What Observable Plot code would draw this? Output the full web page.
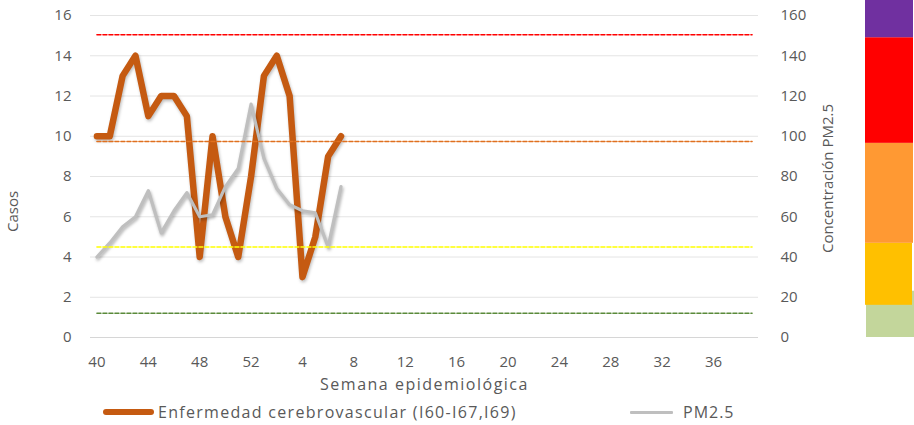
<!DOCTYPE html>
<html><head><meta charset="utf-8">
<script src="https://cdn.jsdelivr.net/npm/d3@7"></script>
<script src="https://cdn.jsdelivr.net/npm/@observablehq/plot@0.6"></script>
<style>
body{margin:0;background:#fff;}
#wrap{position:relative;width:914px;height:425px;overflow:hidden;font-family:"Open Sans",sans-serif;color:#595959;}
.leg{position:absolute;font-size:16px;line-height:20px;white-space:nowrap;color:#595959;}
.sw{position:absolute;border-radius:3px;}
</style></head><body><div id="wrap"></div>
<script>
// Categories: epidemiological weeks (40..52 then 1..39)
const weeks = [40,41,42,43,44,45,46,47,48,49,50,51,52,1,2,3,4,5,6,7,8,9,10,11,12,13,14,15,16,17,18,19,20,21,22,23,24,25,26,27,28,29,30,31,32,33,34,35,36,37,38,39];
// Series values (first 20 weeks have data)
const casos = [10,10,13,14,11,12,12,11,4,10,6,4,8,13,14,12,3,5,9,10];
const pm25  = [40,47,55,60,73,52,63,72,60,61,75,84,116,89,74,66,63,62,45,75];
// Threshold lines (PM2.5 units) and their colours
const thresholds = [12, 45, 97.4, 150.4];
const thresholdColors = ["#5a8a3a", "#ffff00", "#e0701f", "#ff0000"];
// Tick labels
const yTicksLeft = [0,2,4,6,8,10,12,14,16];
const xTickLabels = [40,44,48,52,4,8,12,16,20,24,28,32,36];
// Side colour band (PM2.5 units)
const bandLo = [0, 16, 46.8, 96.5, 149];
const bandHi = [23, 46.8, 96.5, 149, 167.5];
const bandColors = ["#c3d69b", "#ffc000", "#ff9933", "#ff0000", "#7030a0"];

const rows = casos.map((c, i) => ({week: String(weeks[i]), casos: c, pm: pm25[i] / 10}));
const ends = [String(weeks[0]), String(weeks[weeks.length - 1])];
const font = '"Open Sans", sans-serif';
const wrap = document.getElementById("wrap");

const chart = Plot.plot({
  width: 914, height: 425,
  marginLeft: 90, marginRight: 156, marginTop: 15, marginBottom: 88,
  style: {fontFamily: font, fontSize: "15px", color: "#595959", background: "transparent", overflow: "visible", position: "absolute", left: "0px", top: "0px"},
  x: {type: "point", domain: weeks.map(String), padding: 0.5},
  y: {domain: [0, 16]},
  marks: [
    Plot.ruleY(yTicksLeft.filter(d => d > 0), {stroke: "#e4e4e4", strokeWidth: 1}),
    Plot.ruleY([0], {stroke: "#d6d6d6", strokeWidth: 1}),
    Plot.axisY(yTicksLeft, {anchor: "left", tickSize: 0, tickPadding: 19, label: null, fontSize: 15, fill: "#595959"}),
    Plot.axisY(yTicksLeft, {anchor: "right", tickSize: 0, tickPadding: 22, label: null, tickFormat: d => String(d * 10), fontSize: 15, fill: "#595959"}),
    Plot.axisX(xTickLabels.map(String), {anchor: "bottom", tickSize: 0, tickPadding: 19, label: null, fontSize: 15, fill: "#595959"}),
    Plot.line(rows, {x: "week", y: "casos", stroke: "#c55a11", strokeWidth: 6.5, strokeLinejoin: "round", strokeLinecap: "round"}),
    Plot.line(rows, {x: "week", y: "pm", stroke: "#bfbfbf", strokeWidth: 3.2, strokeLinejoin: "round", strokeLinecap: "round"}),
    ...thresholds.map((t, k) => Plot.line(ends, {x: d => d, y: () => t / 10, stroke: thresholdColors[k], strokeWidth: 1.5, strokeDasharray: "4,2"})),
    Plot.text(["Casos"], {frameAnchor: "left", textAnchor: "middle", dx: -77, dy: 35, rotate: -90, fontSize: 15, fill: "#595959"}),
    Plot.text(["Concentración PM2.5"], {frameAnchor: "right", textAnchor: "middle", dx: 70, dy: 2, rotate: -90, fontSize: 15, fill: "#595959"}),
    Plot.text(["Semana epidemiológica"], {frameAnchor: "bottom", textAnchor: "middle", dy: 52, fontSize: 16, fill: "#595959"})
  ]
});
d3.select(chart).selectAll('path[stroke="#bfbfbf"], g[stroke="#bfbfbf"] path').style("filter", "drop-shadow(1px 2px 1.5px rgba(0,0,0,0.3))");
d3.select(chart).selectAll('path[stroke="#c55a11"], g[stroke="#c55a11"] path').style("filter", "drop-shadow(1px 2px 1.5px rgba(0,0,0,0.25))");
d3.select(chart).selectAll("text").filter(function() { return this.textContent === "Semana epidemiológica"; }).style("letter-spacing", "1.5px");
wrap.append(chart);

// Side colour band
const bands = bandLo.map((lo, i) => ({lo, hi: bandHi[i], color: bandColors[i], a: i === 0 ? 1 : 0, b: i === 0 ? 49 : (i === 1 ? 47 : 48)}));
const bar = Plot.plot({
  width: 49, height: 337, marginTop: 0, marginRight: 0, marginBottom: 0, marginLeft: 0,
  x: {domain: [0, 49], axis: null},
  y: {domain: [0, 167.5], axis: null},
  style: {background: "transparent", position: "absolute", left: "865px", top: "0px"},
  marks: bands.map(d => Plot.rect([d], {x1: "a", x2: "b", y1: "lo", y2: "hi", fill: d.color}))
});
wrap.append(bar);

// Legend (HTML, below the plot area)
function add(html) { const d = document.createElement("div"); d.innerHTML = html; wrap.append(d.firstChild); }
add('<div class="sw" style="left:103px;top:409px;width:51px;height:6px;background:#c55a11"></div>');
add('<div class="leg" style="left:158px;top:402px;letter-spacing:1.3px">Enfermedad cerebrovascular (I60-I67,I69)</div>');
add('<div class="sw" style="left:630px;top:411px;width:43px;height:3px;background:#bfbfbf;border-radius:1px"></div>');
add('<div class="leg" style="left:683px;top:402px;letter-spacing:1px">PM2.5</div>');
</script>
</body></html>
